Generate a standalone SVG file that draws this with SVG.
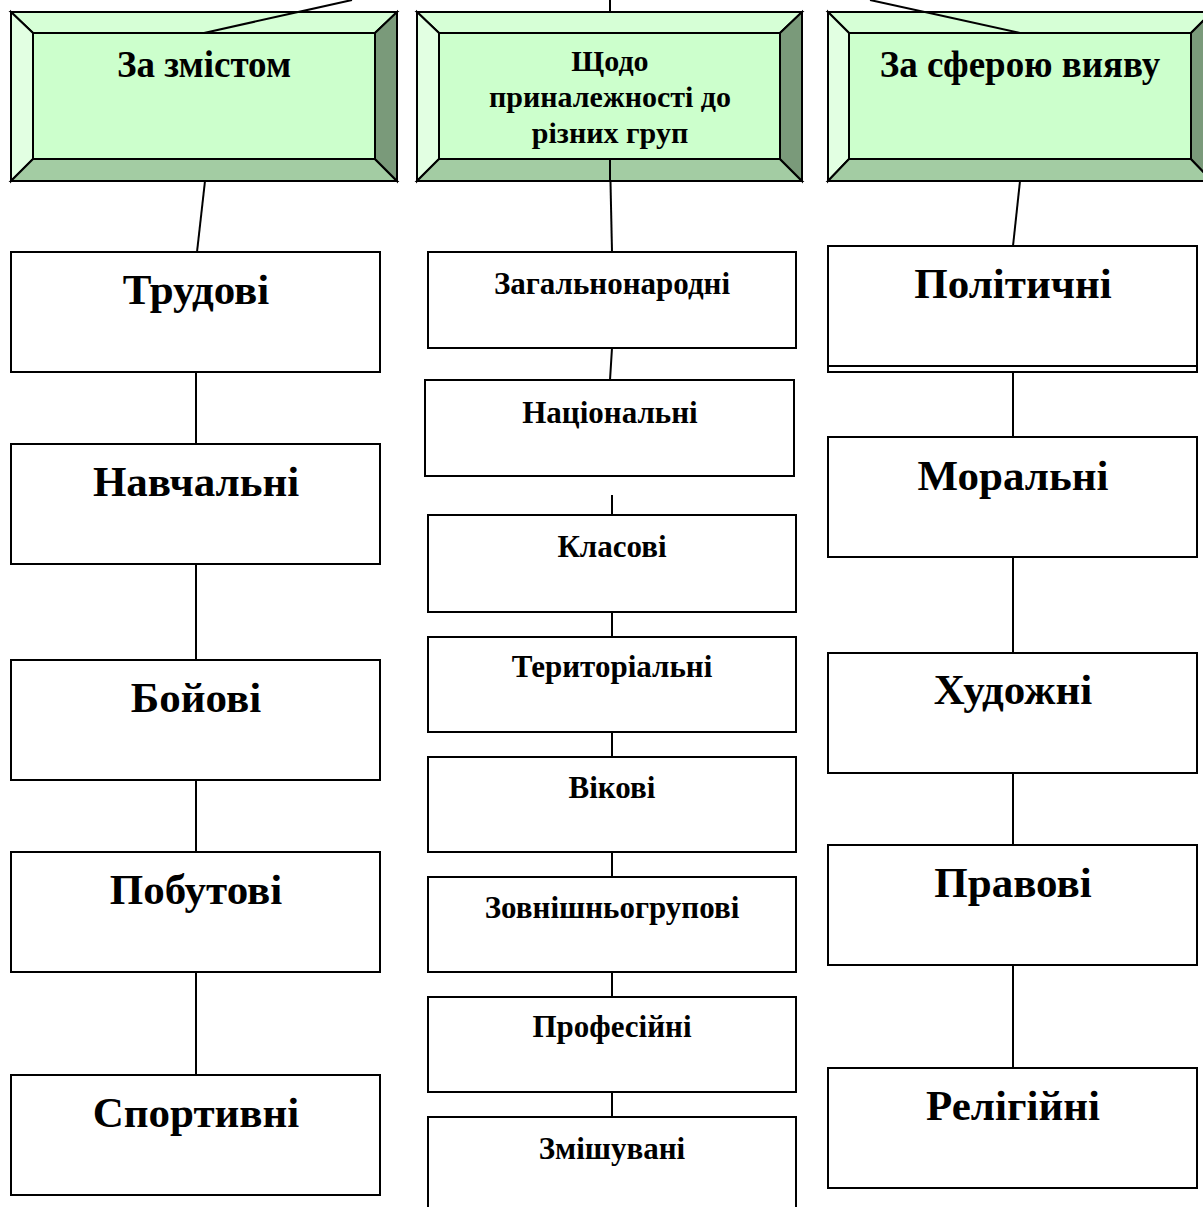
<svg xmlns="http://www.w3.org/2000/svg" width="1203" height="1207" viewBox="0 0 1203 1207">
<style>
.bx{fill:#fff;stroke:#000;stroke-width:2}
.bv{stroke:#000;stroke-width:2;stroke-linejoin:miter}
.face{fill:#ccffcc}.top{fill:#d6ffd6}.left{fill:#e2ffe2}.bot{fill:#a3cca3}.right{fill:#7a9a7a}
.ln{stroke:#000;stroke-width:2;fill:none}
text{font-family:"Liberation Serif","Times New Roman",serif;font-weight:bold;fill:#000;text-anchor:middle}
.h{font-size:37px}.h2{font-size:30px}.b{font-size:43px}.s{font-size:31px}
</style>
<rect width="1203" height="1207" fill="#fff"/>
<g id="connectors">
<line class="ln" x1="204" y1="33" x2="352" y2="0"/>
<line class="ln" x1="610" y1="0" x2="610" y2="12"/>
<line class="ln" x1="1020" y1="33" x2="870" y2="0"/>
<line class="ln" x1="205" y1="181" x2="197" y2="252"/>
<line class="ln" x1="610" y1="159" x2="612" y2="252"/>
<line class="ln" x1="1020" y1="181" x2="1013" y2="246"/>
<line class="ln" x1="196" y1="372" x2="196" y2="444"/>
<line class="ln" x1="196" y1="564" x2="196" y2="660"/>
<line class="ln" x1="196" y1="780" x2="196" y2="852"/>
<line class="ln" x1="196" y1="972" x2="196" y2="1075"/>
<line class="ln" x1="612" y1="348" x2="610" y2="380"/>
<line class="ln" x1="612" y1="495" x2="612" y2="515"/>
<line class="ln" x1="612" y1="612" x2="612" y2="637"/>
<line class="ln" x1="612" y1="732" x2="612" y2="757"/>
<line class="ln" x1="612" y1="852" x2="612" y2="877"/>
<line class="ln" x1="612" y1="972" x2="612" y2="997"/>
<line class="ln" x1="612" y1="1092" x2="612" y2="1117"/>
<line class="ln" x1="1013" y1="372" x2="1013" y2="437"/>
<line class="ln" x1="1013" y1="557" x2="1013" y2="653"/>
<line class="ln" x1="1013" y1="773" x2="1013" y2="845"/>
<line class="ln" x1="1013" y1="965" x2="1013" y2="1068"/>
</g>
<g id="h1">
<polygon class="bv top" points="11,12 397,12 375,33 33,33"/>
<polygon class="bv left" points="11,12 33,33 33,159 11,181"/>
<polygon class="bv bot" points="11,181 33,159 375,159 397,181"/>
<polygon class="bv right" points="397,12 397,181 375,159 375,33"/>
<rect class="bv face" x="33" y="33" width="342" height="126"/>
<line class="ln" x1="204" y1="33" x2="298" y2="12"/>
<text class="h" x="204" y="77">За змістом</text>
</g>
<g id="h2">
<polygon class="bv top" points="417,12 802,12 780,33 439,33"/>
<polygon class="bv left" points="417,12 439,33 439,159 417,181"/>
<polygon class="bv bot" points="417,181 439,159 780,159 802,181"/>
<polygon class="bv right" points="802,12 802,181 780,159 780,33"/>
<rect class="bv face" x="439" y="33" width="341" height="126"/>
<line class="ln" x1="610" y1="159" x2="610" y2="181"/>
<text class="h2" x="610" y="71">Щодо</text>
<text class="h2" x="610" y="107">приналежності до</text>
<text class="h2" x="610" y="143">різних груп</text>
</g>
<g id="h3">
<polygon class="bv top" points="828,12 1212,12 1191,33 849,33"/>
<polygon class="bv left" points="828,12 849,33 849,159 828,181"/>
<polygon class="bv bot" points="828,181 849,159 1191,159 1212,181"/>
<polygon class="bv right" points="1212,12 1212,181 1191,159 1191,33"/>
<rect class="bv face" x="849" y="33" width="342" height="126"/>
<line class="ln" x1="1020" y1="33" x2="925" y2="12"/>
<text class="h" x="1020" y="77">За сферою вияву</text>
</g>
<g id="n-trudovi"><rect class="bx" x="11" y="252" width="369" height="120"/><text class="b" x="196" y="304">Трудові</text></g>
<g id="n-navchalni"><rect class="bx" x="11" y="444" width="369" height="120"/><text class="b" x="196" y="496">Навчальні</text></g>
<g id="n-boiovi"><rect class="bx" x="11" y="660" width="369" height="120"/><text class="b" x="196" y="712">Бойові</text></g>
<g id="n-pobutovi"><rect class="bx" x="11" y="852" width="369" height="120"/><text class="b" x="196" y="904">Побутові</text></g>
<g id="n-sportyvni"><rect class="bx" x="11" y="1075" width="369" height="120"/><text class="b" x="196" y="1127">Спортивні</text></g>
<g id="n-zahalno"><rect class="bx" x="428" y="252" width="368" height="96"/><text class="s" x="612" y="294">Загальнонародні</text></g>
<g id="n-natsionalni"><rect class="bx" x="425" y="380" width="369" height="96"/><text class="s" x="610" y="423">Національні</text></g>
<g id="n-klasovi"><rect class="bx" x="428" y="515" width="368" height="97"/><text class="s" x="612" y="557">Класові</text></g>
<g id="n-terytorialni"><rect class="bx" x="428" y="637" width="368" height="95"/><text class="s" x="612" y="677">Територіальні</text></g>
<g id="n-vikovi"><rect class="bx" x="428" y="757" width="368" height="95"/><text class="s" x="612" y="798">Вікові</text></g>
<g id="n-zovnishnio"><rect class="bx" x="428" y="877" width="368" height="95"/><text class="s" x="612" y="918">Зовнішньогрупові</text></g>
<g id="n-profesiini"><rect class="bx" x="428" y="997" width="368" height="95"/><text class="s" x="612" y="1037">Професійні</text></g>
<g id="n-zmishuvani"><path class="bx" d="M428,1210 V1117 H796 V1210"/><text class="s" x="612" y="1159">Змішувані</text></g>
<g id="n-politychni"><rect class="bx" x="828" y="252" width="369" height="120"/><rect class="bx" x="828" y="246" width="369" height="120"/><text class="b" x="1013" y="298">Політичні</text></g>
<g id="n-moralni"><rect class="bx" x="828" y="437" width="369" height="120"/><text class="b" x="1013" y="490">Моральні</text></g>
<g id="n-khudozhni"><rect class="bx" x="828" y="653" width="369" height="120"/><text class="b" x="1013" y="704">Художні</text></g>
<g id="n-pravovi"><rect class="bx" x="828" y="845" width="369" height="120"/><text class="b" x="1013" y="897">Правові</text></g>
<g id="n-relihiini"><rect class="bx" x="828" y="1068" width="369" height="120"/><text class="b" x="1013" y="1120">Релігійні</text></g>
</svg>
